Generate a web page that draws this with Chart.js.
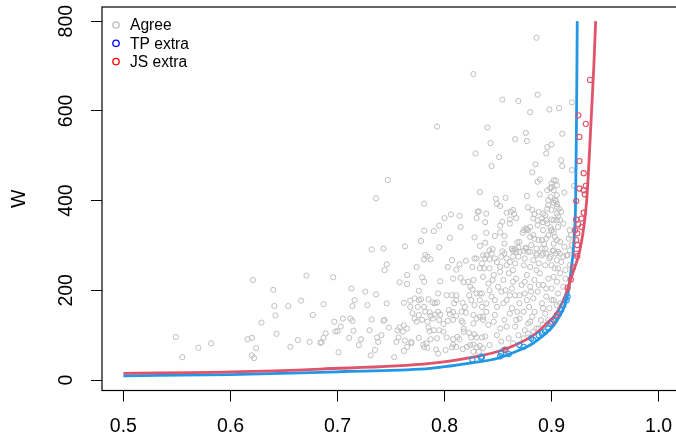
<!DOCTYPE html>
<html>
<head>
<meta charset="utf-8">
<script src="https://cdn.jsdelivr.net/npm/chart.js@4.4.1/dist/chart.umd.min.js"></script>
<style>
  html, body { margin: 0; padding: 0; overflow: hidden; background: #fff; }
  #wrap { width: 676px; height: 435px; overflow: hidden; }
</style>
</head>
<body>
<div id="wrap"><canvas id="w-chart" width="700" height="435"></canvas></div>
<script>
// Tick labels
const xTicks = [0.5, 0.6, 0.7, 0.8, 0.9, 1.0];
const wTicks = [0, 200, 400, 600, 800];

// Grey points where both methods agree, [x, W]
const agree = [
    [0.549, 96], [0.555, 51], [0.570, 72], [0.582, 82], [0.616, 91], [0.620, 94], [0.621, 223], [0.624, 71],
    [0.620, 55], [0.622, 49], [0.629, 128], [0.640, 201], [0.641, 165], [0.642, 144], [0.643, 103], [0.654, 165],
    [0.656, 74], [0.663, 89], [0.666, 177], [0.671, 233], [0.674, 85], [0.677, 145], [0.684, 83],
    [0.696, 229], [0.687, 169], [0.713, 204], [0.726, 197], [0.736, 191], [0.716, 178], [0.714, 165], [0.728, 167],
    [0.746, 171], [0.705, 137], [0.697, 130], [0.712, 137], [0.714, 132], [0.703, 119], [0.698, 108], [0.700, 109],
    [0.689, 104], [0.687, 94], [0.685, 84], [0.715, 110], [0.711, 94], [0.722, 91], [0.720, 78], [0.701, 62],
    [0.732, 135], [0.730, 111], [0.741, 100], [0.737, 95], [0.738, 85], [0.735, 67], [0.731, 55], [0.743, 132],
    [0.744, 134], [0.748, 117], [0.744, 245], [0.746, 258], [0.758, 218], [0.765, 214], [0.765, 234], [0.774, 252],
    [0.779, 229], [0.781, 219], [0.782, 279], [0.784, 275], [0.781, 269], [0.787, 269], [0.796, 220], [0.803, 252],
    [0.807, 267], [0.808, 226], [0.811, 246], [0.814, 258], [0.820, 266], [0.815, 228], [0.818, 218], [0.822, 219],
    [0.828, 271], [0.830, 271], [0.826, 252], [0.833, 249], [0.827, 223],
    [0.762, 172], [0.768, 177], [0.772, 182], [0.776, 199], [0.776, 178], [0.778, 180], [0.785, 180], [0.789, 173],
    [0.793, 173], [0.794, 193], [0.791, 171], [0.768, 163], [0.770, 149], [0.775, 163], [0.781, 163], [0.782, 152],
    [0.786, 151], [0.776, 145], [0.772, 137], [0.774, 130], [0.779, 134], [0.784, 130], [0.787, 143], [0.789, 137],
    [0.791, 146], [0.794, 152], [0.796, 146], [0.795, 134], [0.799, 125], [0.804, 156], [0.805, 147], [0.808, 152],
    [0.811, 143], [0.808, 134], [0.803, 132], [0.802, 189], [0.807, 189], [0.811, 189], [0.809, 171], [0.811, 178],
    [0.817, 172], [0.819, 163], [0.816, 152], [0.820, 150], [0.816, 132], [0.817, 128], [0.824, 208], [0.826, 202],
    [0.823, 189], [0.825, 178], [0.830, 193], [0.833, 193], [0.833, 178], [0.828, 167], [0.835, 163], [0.827, 145],
    [0.830, 137], [0.833, 141], [0.836, 134], [0.827, 126],
    [0.818, 114], [0.818, 108], [0.823, 105], [0.828, 102], [0.825, 95], [0.830, 95], [0.835, 95], [0.812, 96],
    [0.814, 91], [0.808, 91], [0.802, 95], [0.799, 108], [0.795, 111], [0.790, 111], [0.786, 109], [0.785, 117],
    [0.793, 93], [0.787, 91], [0.783, 82], [0.780, 79], [0.781, 73], [0.784, 72], [0.776, 94], [0.769, 85],
    [0.769, 82], [0.763, 88], [0.757, 95], [0.755, 85], [0.765, 74], [0.762, 65], [0.753, 51], [0.765, 115],
    [0.762, 122], [0.758, 117], [0.756, 111], [0.761, 108], [0.792, 68], [0.801, 67], [0.807, 73], [0.808, 79],
    [0.811, 74], [0.817, 69], [0.821, 74], [0.824, 78], [0.827, 79], [0.830, 73], [0.833, 76], [0.827, 63],
    [0.832, 63], [0.836, 71], [0.794, 59],
    [0.827, 682], [0.854, 625], [0.869, 622], [0.793, 565], [0.840, 563], [0.866, 537], [0.843, 528], [0.829, 505],
    [0.851, 497], [0.844, 477], [0.747, 446], [0.736, 405], [0.781, 393], [0.833, 419], [0.848, 404], [0.857, 406],
    [0.849, 393], [0.852, 388], [0.864, 379], [0.858, 373], [0.865, 370], [0.867, 361], [0.861, 358], [0.854, 353],
    [0.852, 344], [0.861, 349], [0.831, 375], [0.839, 371], [0.830, 361], [0.838, 352], [0.800, 361], [0.806, 369],
    [0.814, 366], [0.815, 341], [0.795, 344], [0.790, 332], [0.781, 333], [0.778, 310], [0.805, 317], [0.795, 296],
    [0.828, 318], [0.839, 328], [0.847, 321], [0.856, 321], [0.868, 307], [0.856, 304], [0.838, 306], [0.833, 299],
    [0.845, 292], [0.842, 289], [0.854, 287], [0.863, 292], [0.866, 292], [0.836, 278], [0.763, 298], [0.743, 293],
    [0.732, 291], [0.858, 271], [0.864, 275], [0.842, 269],
    [0.876, 551], [0.877, 533], [0.900, 525], [0.896, 519], [0.895, 505], [0.885, 481], [0.882, 463], [0.889, 447],
    [0.887, 442], [0.902, 445], [0.904, 445], [0.900, 438], [0.899, 427], [0.896, 423], [0.902, 423], [0.905, 434],
    [0.905, 412], [0.899, 408], [0.889, 414], [0.877, 410], [0.862, 375], [0.878, 385], [0.882, 379], [0.884, 370],
    [0.888, 375], [0.892, 371], [0.896, 382], [0.897, 390], [0.902, 395], [0.904, 399], [0.905, 386], [0.900, 379],
    [0.905, 371], [0.883, 360], [0.887, 356], [0.892, 352], [0.896, 349], [0.900, 358], [0.899, 340], [0.905, 356],
    [0.906, 341], [0.900, 334], [0.902, 330], [0.887, 345], [0.880, 341], [0.877, 336], [0.873, 328], [0.876, 338],
    [0.880, 319], [0.884, 315], [0.891, 312], [0.895, 315], [0.893, 303], [0.902, 304], [0.905, 312], [0.870, 308],
    [0.869, 295], [0.876, 295], [0.881, 301], [0.886, 293], [0.880, 286], [0.874, 288], [0.867, 286], [0.863, 293],
    [0.864, 288], [0.832, 376], [0.852, 329], [0.886, 278], [0.892, 282], [0.899, 275], [0.904, 282], [0.894, 293],
    [0.901, 288],
    [0.835, 260], [0.839, 278], [0.842, 249], [0.847, 271], [0.852, 252], [0.856, 282], [0.861, 263], [0.864, 245],
    [0.869, 275], [0.874, 256], [0.878, 286], [0.883, 267], [0.886, 245], [0.891, 278], [0.894, 256], [0.898, 271],
    [0.903, 249], [0.906, 286], [0.909, 263], [0.913, 245], [0.915, 278], [0.917, 256],
    [0.836, 230], [0.841, 215], [0.846, 234], [0.850, 208], [0.855, 223], [0.860, 238], [0.863, 204], [0.867, 226],
    [0.872, 212], [0.877, 234], [0.880, 208], [0.884, 223], [0.889, 238], [0.892, 212], [0.897, 226], [0.900, 204],
    [0.905, 219], [0.908, 238], [0.911, 208], [0.913, 226],
    [0.835, 193], [0.839, 171], [0.844, 186], [0.849, 163], [0.853, 197], [0.858, 178], [0.863, 160], [0.866, 189],
    [0.870, 171], [0.875, 193], [0.879, 163], [0.883, 182], [0.887, 197], [0.891, 171], [0.895, 186], [0.898, 160],
    [0.902, 178], [0.906, 193], [0.908, 171],
    [0.836, 141], [0.841, 123], [0.847, 145], [0.852, 115], [0.856, 134], [0.861, 148], [0.866, 119], [0.870, 137],
    [0.874, 152], [0.878, 126], [0.882, 141], [0.886, 115], [0.890, 134], [0.894, 148], [0.897, 134],
    [0.838, 97], [0.842, 78], [0.849, 100], [0.853, 86], [0.860, 93], [0.864, 82], [0.869, 100], [0.874, 93],
    [0.878, 104], [0.883, 108], [0.888, 115], [0.892, 123],
    [0.838, 271], [0.844, 282], [0.849, 263], [0.853, 275], [0.858, 256], [0.866, 260], [0.870, 286], [0.875, 271],
    [0.880, 252], [0.888, 260], [0.895, 282], [0.900, 256], [0.905, 267], [0.911, 275], [0.837, 249], [0.845, 223],
    [0.852, 241], [0.857, 200], [0.864, 219], [0.870, 189], [0.875, 219], [0.881, 197], [0.888, 212], [0.895, 204],
    [0.902, 230], [0.906, 249], [0.842, 200], [0.847, 178], [0.855, 171], [0.861, 189], [0.868, 152], [0.877, 178],
    [0.884, 152], [0.892, 160], [0.900, 178], [0.905, 167], [0.839, 152], [0.846, 130], [0.858, 119], [0.867, 134],
    [0.875, 111], [0.880, 130],
    [0.886, 763], [0.887, 636], [0.880, 597], [0.898, 603], [0.907, 606], [0.919, 619], [0.910, 549], [0.909, 490],
    [0.910, 477], [0.919, 468], [0.900, 430], [0.912, 418], [0.921, 433], [0.897, 401], [0.903, 401], [0.905, 392],
    [0.907, 382], [0.909, 375], [0.891, 360], [0.894, 367], [0.895, 356], [0.902, 356], [0.906, 365], [0.908, 356],
    [0.911, 349], [0.917, 334], [0.918, 323], [0.916, 315], [0.919, 301], [0.912, 297], [0.908, 308], [0.903, 319],
    [0.900, 334], [0.897, 323], [0.892, 334], [0.888, 312], [0.883, 323], [0.874, 334], [0.878, 334], [0.876, 293],
    [0.886, 282], [0.891, 293], [0.902, 289], [0.908, 282], [0.914, 278], [0.917, 289]
];

// Blue points, only flagged by TP
const tpExtra = [
    [0.826, 46], [0.834, 50], [0.835, 52], [0.852, 53], [0.853, 60], [0.860, 58], [0.856, 67], [0.870, 78],
    [0.874, 74], [0.881, 93], [0.883, 89], [0.888, 100], [0.891, 104], [0.894, 108], [0.897, 115], [0.899, 126],
    [0.902, 134], [0.905, 141], [0.907, 148], [0.909, 156], [0.911, 167], [0.914, 178], [0.915, 186]
];

// Red points, only flagged by JS
const jsExtra = [
    [0.936, 669], [0.925, 590], [0.932, 571], [0.926, 542], [0.926, 488], [0.930, 461], [0.932, 433], [0.930, 423],
    [0.931, 414], [0.926, 427], [0.923, 399], [0.930, 373], [0.928, 360], [0.923, 358], [0.925, 347], [0.928, 341],
    [0.922, 334], [0.924, 327], [0.923, 312], [0.924, 301], [0.923, 282], [0.924, 276], [0.920, 251], [0.918, 224],
    [0.915, 206], [0.905, 145], [0.900, 130], [0.857, 68]
];

// Boundary curves
const tpCurveX = [0.500, 0.600, 0.684, 0.707, 0.787, 0.833, 0.849, 0.864, 0.880, 0.889, 0.895, 0.902, 0.908, 0.913, 0.9155, 0.918, 0.920, 0.9212, 0.9225, 0.9234, 0.924];
const tpCurveW = [9.5, 12, 17, 19, 26, 41, 48, 61, 78, 93, 105, 122, 145, 171, 195, 240, 280, 320, 400, 600, 800];
const jsCurveX = [0.500, 0.600, 0.684, 0.787, 0.833, 0.849, 0.864, 0.880, 0.889, 0.895, 0.902, 0.908, 0.913, 0.917, 0.9215, 0.9265, 0.9328, 0.9374, 0.9395, 0.9412];
const jsCurveW = [15, 18, 24.5, 37, 54, 63, 76, 95, 111, 125, 141, 163, 189, 218, 250, 290, 400, 600, 700, 800];

const FONT = '"Liberation Sans", Arial, Helvetica, sans-serif';
const GREY = '#BEBEBE';
const BLUE = '#2297E6';
const RED = '#DF536B';

function toPoints(pairs) {
    return pairs.map(p => ({ x: p[0], y: p[1] }));
}
function curvePoints(xs, ws) {
    return xs.map((x, i) => ({ x: x, y: ws[i] }));
}

// Draws the box around the plot region and the legend in its top left corner
const boxAndLegend = {
    id: 'boxAndLegend',
    afterDraw(chart) {
        const { ctx, chartArea } = chart;
        ctx.save();
        ctx.strokeStyle = '#000';
        ctx.lineWidth = 1.2;
        ctx.strokeRect(chartArea.left, chartArea.top, chartArea.right - chartArea.left, chartArea.bottom - chartArea.top);

        const items = [
            { text: 'Agree', color: GREY },
            { text: 'TP extra', color: '#0000FF' },
            { text: 'JS extra', color: '#FF0000' }
        ];
        ctx.font = '15.6px ' + FONT;
        ctx.textBaseline = 'middle';
        ctx.textAlign = 'left';
        items.forEach((it, i) => {
            const y = chartArea.top + 18 + i * 18.3;
            ctx.beginPath();
            ctx.arc(chartArea.left + 14, y, 3.2, 0, Math.PI * 2);
            ctx.strokeStyle = it.color;
            ctx.lineWidth = 1.3;
            ctx.stroke();
            ctx.fillStyle = '#000';
            ctx.fillText(it.text, chartArea.left + 28, y + 1);
        });
        ctx.restore();
    }
};

const ctx = document.getElementById('w-chart').getContext('2d');
const wChart = new Chart(ctx, {
    type: 'scatter',
    data: {
        datasets: [
            {
                label: 'JS extra',
                data: toPoints(jsExtra),
                pointRadius: 2.6,
                borderWidth: 1.1,
                borderColor: RED,
                backgroundColor: 'rgba(0,0,0,0)',
                order: 0
            },
            {
                label: 'TP extra',
                data: toPoints(tpExtra),
                pointRadius: 2.6,
                borderWidth: 1.1,
                borderColor: BLUE,
                backgroundColor: 'rgba(0,0,0,0)',
                order: 1
            },
            {
                label: 'JS curve',
                data: curvePoints(jsCurveX, jsCurveW),
                showLine: true,
                pointRadius: 0,
                borderWidth: 2.8,
                borderColor: RED,
                cubicInterpolationMode: 'monotone',
                order: 2
            },
            {
                label: 'TP curve',
                data: curvePoints(tpCurveX, tpCurveW),
                showLine: true,
                pointRadius: 0,
                borderWidth: 2.8,
                borderColor: BLUE,
                cubicInterpolationMode: 'monotone',
                order: 3
            },
            {
                label: 'Agree',
                data: toPoints(agree),
                pointRadius: 2.6,
                borderWidth: 1,
                borderColor: GREY,
                backgroundColor: 'rgba(0,0,0,0)',
                order: 4
            }
        ]
    },
    options: {
        responsive: false,
        animation: false,
        events: [],
        layout: { padding: { top: 7, right: 20, left: 0, bottom: 0 } },
        plugins: {
            legend: { display: false },
            tooltip: { enabled: false }
        },
        scales: {
            x: {
                type: 'linear',
                min: 0.48,
                max: 1.02,
                afterBuildTicks: (scale) => { scale.ticks = xTicks.map(v => ({ value: v })); },
                afterFit: (scale) => { scale.height = 44.5; scale.paddingLeft = 0; scale.paddingRight = 0; },
                ticks: {
                    autoSkip: false,
                    maxRotation: 0,
                    minRotation: 0,
                    padding: 13.5,
                    color: '#000',
                    font: { family: FONT, size: 19.5 },
                    callback: (v) => v.toFixed(1)
                },
                grid: { drawOnChartArea: false, tickLength: 11, color: '#000', lineWidth: 1 },
                border: { display: false }
            },
            y: {
                type: 'linear',
                min: -23.3,
                max: 831.5,
                afterBuildTicks: (scale) => { scale.ticks = wTicks.map(v => ({ value: v })); },
                afterFit: (scale) => { scale.width = 102; scale.paddingTop = 0; scale.paddingBottom = 0; },
                ticks: {
                    autoSkip: false,
                    minRotation: 90,
                    maxRotation: 90,
                    crossAlign: 'center',
                    padding: 8,
                    color: '#000',
                    font: { family: FONT, size: 19.5 },
                    callback: (v) => String(v)
                },
                title: {
                    display: true,
                    text: 'W',
                    color: '#000',
                    font: { family: FONT, size: 19.5 },
                    padding: { top: 8, bottom: 0 }
                },
                grid: { drawOnChartArea: false, tickLength: 11, color: '#000', lineWidth: 1 },
                border: { display: false }
            }
        }
    },
    plugins: [boxAndLegend]
});
</script>
</body>
</html>
